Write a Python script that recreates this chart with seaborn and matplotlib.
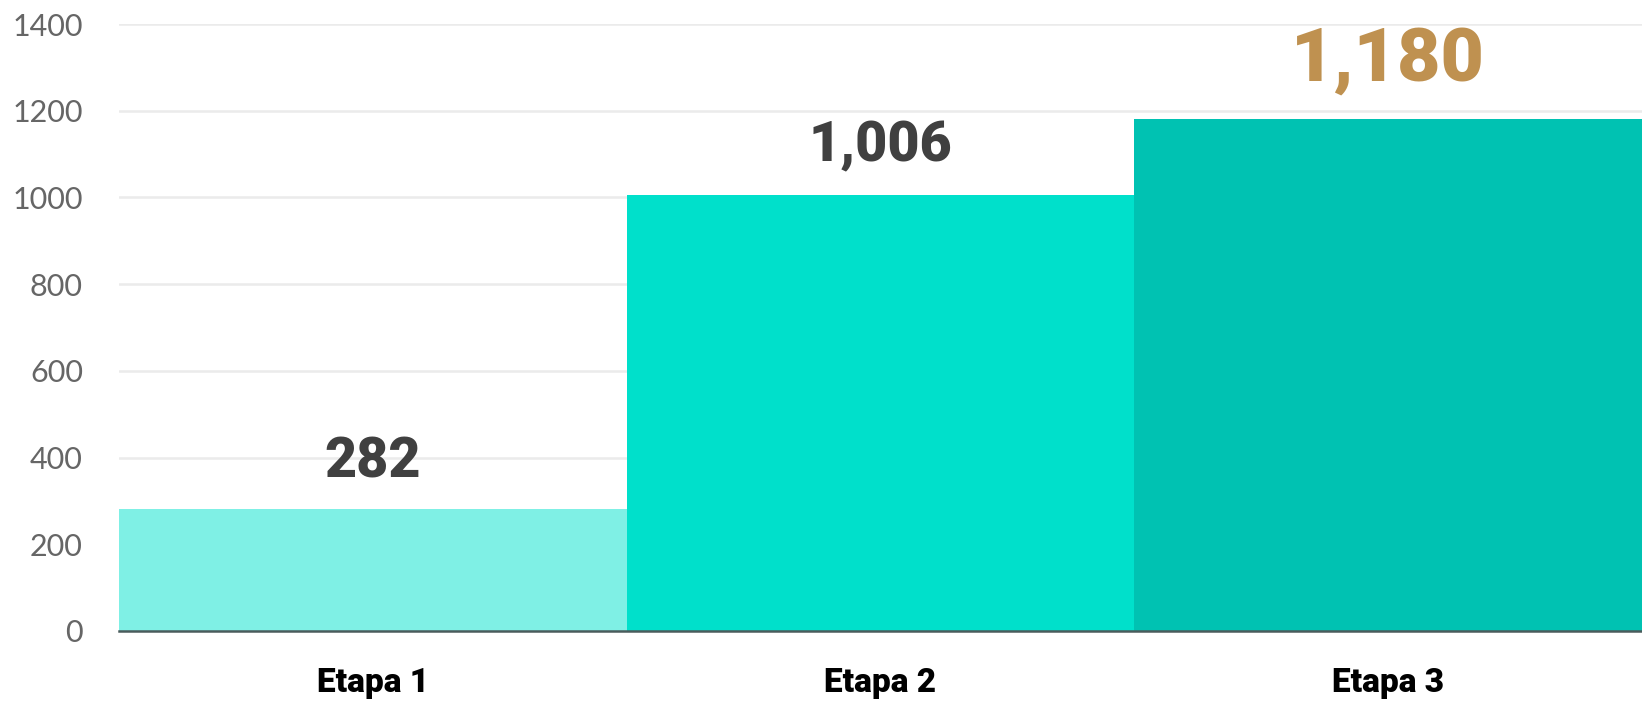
import matplotlib
matplotlib.use("Agg")
import matplotlib.pyplot as plt
import seaborn as sns
import pandas as pd

categories = ["Etapa 1", "Etapa 2", "Etapa 3"]
values = [282, 1006, 1180]
bar_colors = ["#7FF0E5", "#00E0CB", "#00C2B2"]
label_texts = ["282", "1,006", "1,180"]
label_colors = ["#404040", "#404040", "#BF9150"]
label_sizes = [40, 40, 54]
label_offsets = [34, 35, 43]
yticks = [0, 200, 400, 600, 800, 1000, 1200, 1400]

sns.set_theme(style="white")
plt.rcParams['font.family'] = ['Lato', 'DejaVu Sans']

df = pd.DataFrame({"cat": categories, "val": values})

fig = plt.figure(figsize=(16.42, 7.02), dpi=100)
ax = fig.add_axes([119/1642, 71/702, 1 - 119/1642, (631-24)/702])

sns.barplot(data=df, x="cat", y="val", hue="cat", palette=bar_colors,
            width=1.0, legend=False, ax=ax, saturation=1, edgecolor="none", linewidth=0)

ax.set_ylim(0, 1400)
ax.set_xlim(-0.5, 2.5)
ax.set_yticks(yticks)
ax.set_yticklabels([str(t) for t in yticks], color="#666666", fontsize=22)
ax.tick_params(axis="y", length=0, pad=26)
ax.tick_params(axis="x", length=0, pad=26)
for lbl in ax.get_xticklabels():
    lbl.set_fontsize(24)
    lbl.set_fontweight("black")
    lbl.set_family(["Roboto", "DejaVu Sans"])
    lbl.set_color("#000000")
ax.set_xlabel("")
ax.set_ylabel("")
ax.yaxis.grid(True, color="#EBEBEB", linewidth=1.8)
ax.set_axisbelow(True)
for s in ["top", "right", "left"]:
    ax.spines[s].set_visible(False)
ax.spines["bottom"].set_color("#4A5C5C")
ax.spines["bottom"].set_linewidth(1.8)

for i, (v, t, c, s, o) in enumerate(zip(values, label_texts, label_colors, label_sizes, label_offsets)):
    ax.annotate(t, xy=(i, v), xytext=(0, o), textcoords="offset points",
                ha="center", va="center", fontsize=s, fontweight="black",
                family=["Roboto", "DejaVu Sans"],
                color=c, annotation_clip=False)

fig.savefig("out.png", dpi=100)
